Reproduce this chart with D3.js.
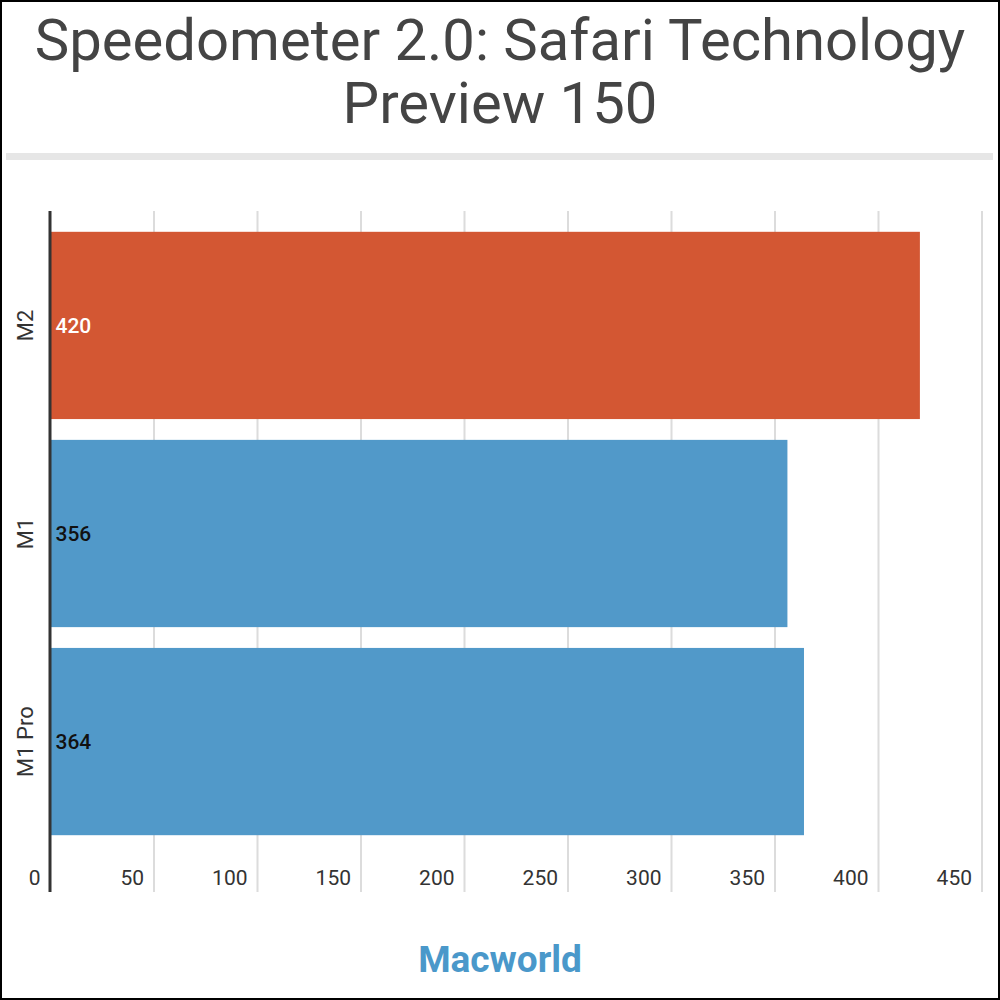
<!DOCTYPE html>
<html>
<head>
<meta charset="utf-8">
<script src="https://cdn.jsdelivr.net/npm/d3@7"></script>
<style>
  html, body { margin: 0; padding: 0; background: #fff; }
  svg { display: block; }
  text { font-family: Roboto, "Noto Sans", sans-serif; }
</style>
</head>
<body>
<svg id="chart" width="1000" height="1000"></svg>
<script>
const titleLines = ["Speedometer 2.0: Safari Technology", "Preview 150"];
const categories = ["M2", "M1", "M1 Pro"];
const values = [420, 356, 364];
const barColors = ["#d35733", "#5199c9", "#5199c9"];
const labelColors = ["#ffffff", "#111111", "#111111"];
const tickValues = [0, 50, 100, 150, 200, 250, 300, 350, 400, 450];
const brand = "Macworld";

const svg = d3.select("#chart");

// border
svg.append("rect").attr("x", 1).attr("y", 1).attr("width", 998).attr("height", 998)
  .attr("fill", "#fff").attr("stroke", "#000").attr("stroke-width", 2);

// title
svg.selectAll("text.title").data(titleLines).join("text")
  .attr("class", "title")
  .attr("x", 500).attr("y", (d, i) => 60 + i * 63)
  .attr("text-anchor", "middle")
  .attr("font-size", 58)
  .attr("fill", "#444444")
  .text(d => d);

// separator
svg.append("rect").attr("x", 6).attr("y", 153).attr("width", 987).attr("height", 7).attr("fill", "#e6e6e6");

const x = d3.scaleLinear().domain([0, 450]).range([50.5, 982]);
const y = d3.scaleBand().domain(categories).range([211, 856]).paddingInner(0.1).paddingOuter(0.1);

const gridTop = 211, gridBottom = 892;

// gridlines
svg.append("g").selectAll("line").data(tickValues.slice(1)).join("line")
  .attr("x1", d => x(d)).attr("x2", d => x(d))
  .attr("y1", gridTop).attr("y2", gridBottom)
  .attr("stroke", "#dcdcdc").attr("stroke-width", 2);

// bars
const rows = categories.map((c, i) => ({ c, v: values[i], color: barColors[i], lc: labelColors[i] }));
svg.append("g").selectAll("rect").data(rows).join("rect")
  .attr("x", x(0)).attr("y", d => y(d.c))
  .attr("width", d => x(d.v) - x(0)).attr("height", y.bandwidth())
  .attr("fill", d => d.color);

// value labels
svg.append("g").selectAll("text").data(rows).join("text")
  .attr("x", x(0) + 5).attr("y", d => y(d.c) + y.bandwidth() / 2)
  .attr("dy", "0.35em")
  .attr("font-size", 21).attr("font-weight", 500)
  .attr("fill", d => d.lc)
  .text(d => d.v);

// y axis line
svg.append("line").attr("x1", 50).attr("x2", 50).attr("y1", gridTop).attr("y2", gridBottom)
  .attr("stroke", "#333333").attr("stroke-width", 3);

// category labels (rotated)
svg.append("g").selectAll("text").data(categories).join("text")
  .attr("transform", d => `translate(33,${y(d) + y.bandwidth() / 2}) rotate(-90)`)
  .attr("text-anchor", "middle")
  .attr("font-size", 22).attr("fill", "#333333")
  .text(d => d);

// x tick labels
svg.append("g").selectAll("text").data(tickValues).join("text")
  .attr("x", d => x(d) - 10).attr("y", 885)
  .attr("text-anchor", "end")
  .attr("font-size", 21).attr("fill", "#333333")
  .text(d => d);

// brand
svg.append("text").attr("x", 500).attr("y", 972)
  .attr("text-anchor", "middle")
  .attr("font-family", "Lato, Roboto, sans-serif")
  .attr("font-weight", 700).attr("font-size", 37)
  .attr("fill", "#4a98ca")
  .text(brand);
</script>
</body>
</html>
